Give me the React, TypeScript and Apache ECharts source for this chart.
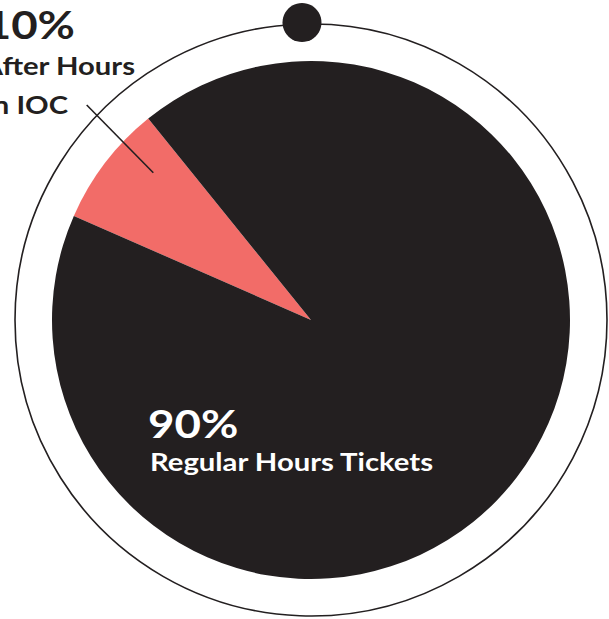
import React, { useEffect, useRef } from "react";
import * as echarts from "echarts";

const categories = ["Tickets After Hours in IOC", "Regular Hours Tickets"];
const values = [7.6, 92.4];
const colors = ["#f26c68", "#231f20"];
const percentLabels = ["10%", "90%"];

export default function App() {
  const ref = useRef<HTMLDivElement>(null);
  useEffect(() => {
    if (!ref.current) return;
    const chart = echarts.init(ref.current, null, { renderer: "svg" });
    const font = "Lato";
    const sx = 1.17;
    chart.setOption({
      animation: false,
      backgroundColor: "#ffffff",
      series: [
        {
          type: "pie",
          center: [311, 320],
          radius: [0, 259],
          startAngle: 156.3,
          clockwise: true,
          label: { show: false },
          labelLine: { show: false },
          emphasis: { disabled: true },
          silent: true,
          itemStyle: { borderWidth: 0 },
          data: categories.map((c, i) => ({
            name: c,
            value: values[i],
            itemStyle: { color: colors[i] },
          })),
        },
      ],
      graphic: [
        {
          type: "circle",
          shape: { cx: 311, cy: 320, r: 296 },
          style: { fill: "none", stroke: "#231f20", lineWidth: 1.6 },
          z: 1,
        },
        {
          type: "circle",
          shape: { cx: 302, cy: 22.5, r: 19.5 },
          style: { fill: "#231f20" },
          z: 2,
        },
        {
          type: "line",
          shape: { x1: 86.7, y1: 105, x2: 153.3, y2: 172.7 },
          style: { stroke: "#231f20", lineWidth: 1.6 },
          z: 10,
        },
        {
          type: "text",
          x: 75,
          y: 24,
          scaleX: sx,
          style: {
            text: percentLabels[0],
            fill: "#231f20",
            font: `bold 39px ${font}`,
            align: "right",
            verticalAlign: "middle",
          },
          z: 10,
        },
        {
          type: "text",
          x: 135,
          y: 65.5,
          scaleX: sx,
          style: {
            text: "After Hours",
            fill: "#231f20",
            font: `bold 25px ${font}`,
            align: "right",
            verticalAlign: "middle",
          },
          z: 10,
        },
        {
          type: "text",
          x: 68,
          y: 104,
          scaleX: sx,
          style: {
            text: "in IOC",
            fill: "#231f20",
            font: `bold 25px ${font}`,
            align: "right",
            verticalAlign: "middle",
          },
          z: 10,
        },
        {
          type: "text",
          x: 148,
          y: 422.5,
          scaleX: sx,
          style: {
            text: percentLabels[1],
            fill: "#ffffff",
            font: `bold 39px ${font}`,
            align: "left",
            verticalAlign: "middle",
          },
          z: 10,
        },
        {
          type: "text",
          x: 150,
          y: 461.5,
          scaleX: sx,
          style: {
            text: categories[1],
            fill: "#ffffff",
            font: `bold 25px ${font}`,
            align: "left",
            verticalAlign: "middle",
          },
          z: 10,
        },
      ],
    });
    return () => chart.dispose();
  }, []);
  return (
    <div
      ref={ref}
      style={{ position: "absolute", left: 0, top: 0, width: 609, height: 619 }}
    />
  );
}
